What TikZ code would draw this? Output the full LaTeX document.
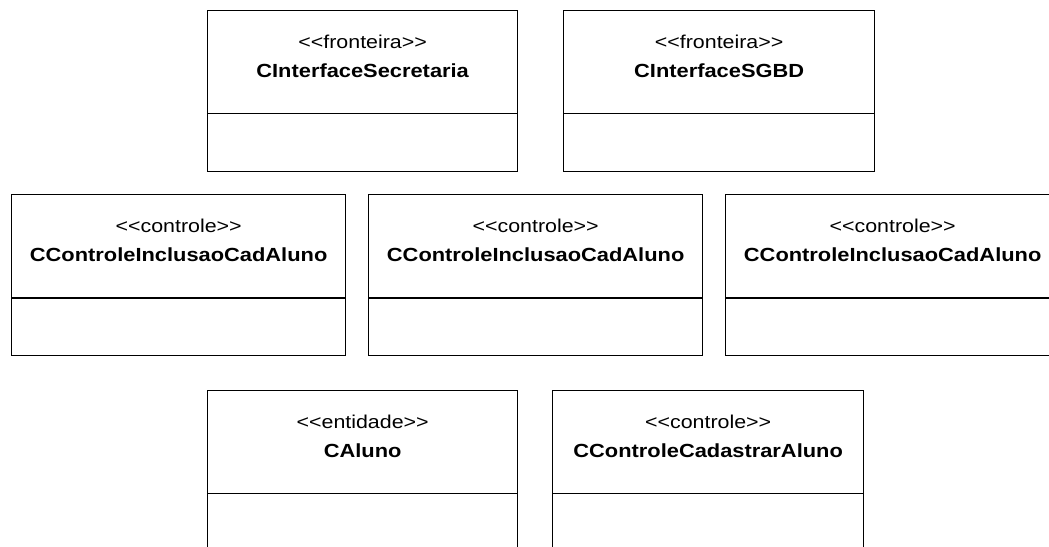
\documentclass[tikz,border=0pt]{standalone}
\usepackage{fontspec}
\setmainfont{Liberation Sans}
\newfontfamily\umlfont[FakeStretch=1.15]{Liberation Sans}
\tikzset{
  umlbox/.style={draw=black, line width=1.3pt, minimum width=#1, minimum height=161pt, anchor=north west, inner sep=0pt},
  stereo/.style={anchor=base, inner sep=0pt, font=\umlfont\fontsize{18.6}{20}\selectfont},
  cname/.style={anchor=base, inner sep=0pt, font=\umlfont\bfseries\fontsize{19}{22}\selectfont},
  divider/.style={line width=1.3pt}
}
\begin{document}
\begin{tikzpicture}[x=1pt,y=-1pt]
\useasboundingbox (0,0) rectangle (1049,546);
\clip (0,0) rectangle (1049,546);
% row 1
\node[umlbox=310pt] (b1) at (207,10) {};
\node[umlbox=311pt] (b2) at (563,10) {};
% row 2
\node[umlbox=334pt] (c1) at (11,194) {};
\node[umlbox=334pt] (c2) at (368,194) {};
\node[umlbox=334pt] (c3) at (725,194) {};
% row 3
\node[umlbox=310pt] (d1) at (207,390) {};
\node[umlbox=311pt] (d2) at (552,390) {};
% dividers
\foreach \n/\y in {b1/113.5,b2/113.5,c1/298,c2/298,c3/298,d1/493.5,d2/493.5}{
  \draw[divider] (\n.west |- 0,\y) -- (\n.east |- 0,\y);
}
% texts
\foreach \n/\s/\t in {b1/fronteira/CInterfaceSecretaria, b2/fronteira/CInterfaceSGBD,
  c1/controle/CControleInclusaoCadAluno, c2/controle/CControleInclusaoCadAluno, c3/controle/CControleInclusaoCadAluno,
  d1/entidade/CAluno, d2/controle/CControleCadastrarAluno}{
  \node[stereo] (\n s) at ([yshift=-38.5pt]\n.north) {<<\s>>};
  \node[cname] (\n n) at ([yshift=-67pt]\n.north) {\t};
}
\end{tikzpicture}
\end{document}
